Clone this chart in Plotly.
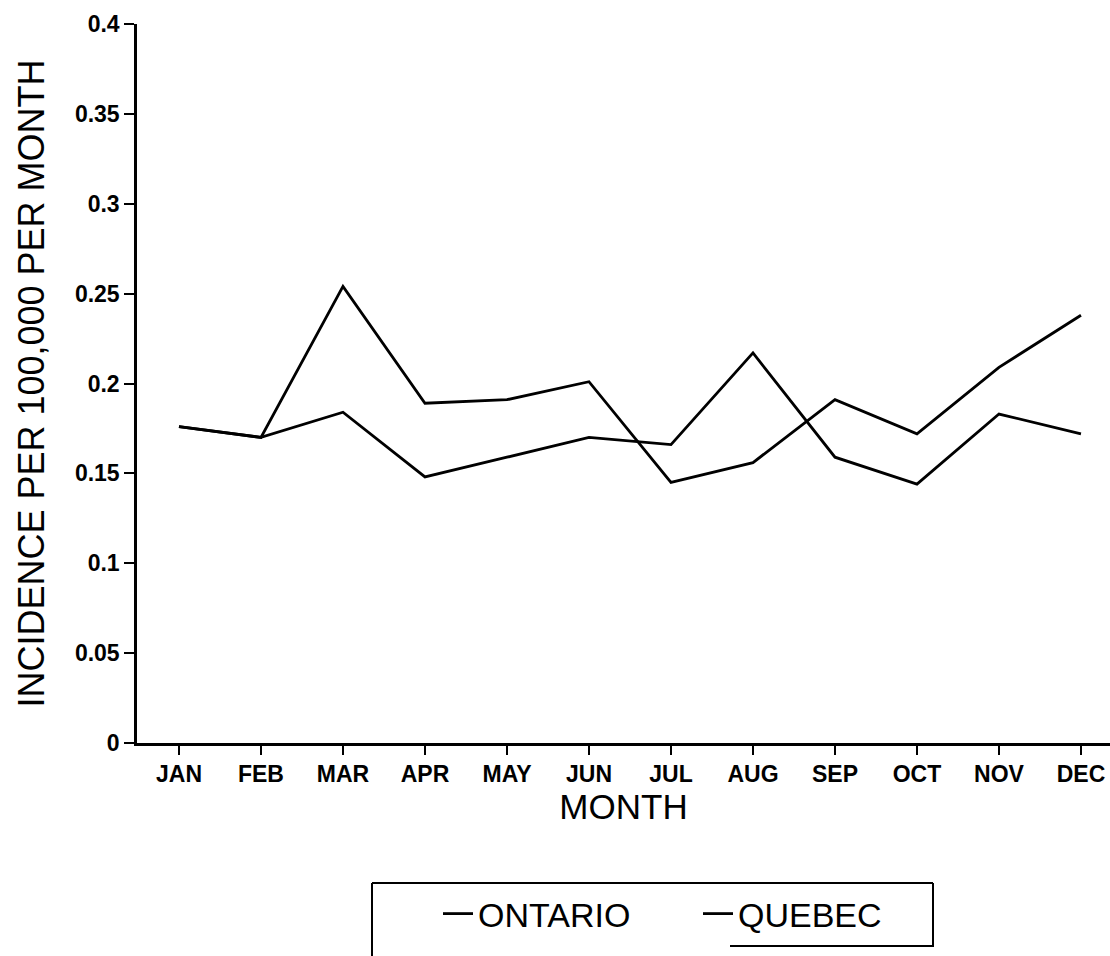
import plotly.graph_objects as go

months = ["JAN", "FEB", "MAR", "APR", "MAY", "JUN", "JUL", "AUG", "SEP", "OCT", "NOV", "DEC"]
ontario = [0.176, 0.170, 0.254, 0.189, 0.191, 0.201, 0.145, 0.156, 0.191, 0.172, 0.209, 0.238]
quebec = [0.176, 0.170, 0.184, 0.148, 0.159, 0.170, 0.166, 0.217, 0.159, 0.144, 0.183, 0.172]
y_ticks = [0, 0.05, 0.1, 0.15, 0.2, 0.25, 0.3, 0.35, 0.4]
y_tick_text = ["0", "0.05", "0.1", "0.15", "0.2", "0.25", "0.3", "0.35", "0.4"]

W, H = 1110, 956
L, R, T, B = 137, 0, 24, 213
PW, PH = W - L - R, H - T - B

FONT = "Liberation Sans, Arial, Helvetica, sans-serif"

fig = go.Figure()
fig.add_trace(go.Scatter(x=months, y=ontario, mode="lines", name="ONTARIO",
                         line=dict(color="black", width=2.8)))
fig.add_trace(go.Scatter(x=months, y=quebec, mode="lines", name="QUEBEC",
                         line=dict(color="black", width=2.8)))


def px_x(p):
    return (p - L) / PW


def px_y(p):
    return (H - B - p) / PH


box_style = dict(color="black", width=2)
shapes = [
    dict(type="line", xref="paper", yref="paper", x0=px_x(372), x1=px_x(933), y0=px_y(883), y1=px_y(883), line=box_style),
    dict(type="line", xref="paper", yref="paper", x0=px_x(372), x1=px_x(372), y0=px_y(883), y1=px_y(960), line=box_style),
    dict(type="line", xref="paper", yref="paper", x0=px_x(933), x1=px_x(933), y0=px_y(883), y1=px_y(947), line=box_style),
    dict(type="line", xref="paper", yref="paper", x0=px_x(730), x1=px_x(933), y0=px_y(946), y1=px_y(946), line=box_style),
]

fig.update_layout(
    width=W, height=H,
    margin=dict(l=L, r=R, t=T, b=B, autoexpand=False),
    paper_bgcolor="white", plot_bgcolor="white",
    font=dict(family=FONT, color="black"),
    showlegend=True,
    legend=dict(orientation="h", xref="container", yref="container",
                x=438 / W, y=1 - 914 / H, xanchor="left", yanchor="middle",
                font=dict(size=34, family=FONT, color="black"),
                entrywidth=215, entrywidthmode="pixels",
                bgcolor="rgba(0,0,0,0)", borderwidth=0),
    shapes=shapes,
    xaxis=dict(
        range=[-0.512, 11.354],
        showgrid=False, zeroline=False,
        showline=True, linecolor="black", linewidth=2.5,
        ticks="outside", ticklen=9, tickwidth=2, tickcolor="black",
        tickfont=dict(size=23, family=FONT, color="black", weight="bold"),
        title=dict(text="MONTH", font=dict(size=35, family=FONT, color="black"), standoff=6),
    ),
    yaxis=dict(
        range=[0, 0.4],
        tickvals=y_ticks, ticktext=y_tick_text,
        showgrid=False, zeroline=False,
        showline=True, linecolor="black", linewidth=2.5,
        ticks="outside", ticklen=10, tickwidth=2, tickcolor="black",
        tickfont=dict(size=23, family=FONT, color="black", weight="bold"),
        title=dict(text="INCIDENCE PER 100,000 PER MONTH",
                   font=dict(size=36, family=FONT, color="black"), standoff=20),
    ),
)

fig.write_html("out.html", config={"displayModeBar": False},
               post_script="document.body.style.margin='0px';")
